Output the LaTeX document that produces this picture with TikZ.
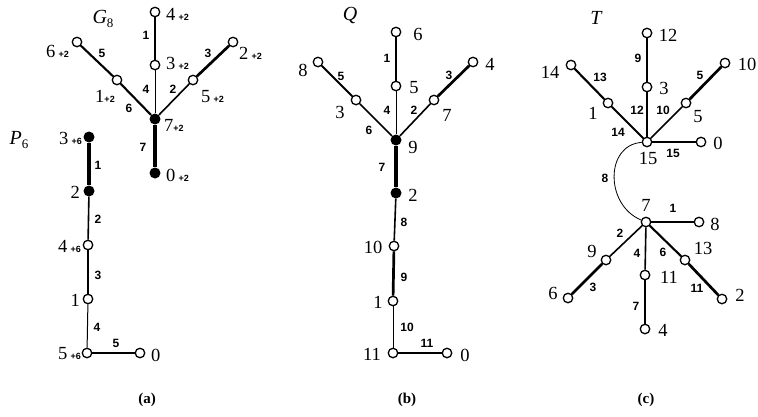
\documentclass[tikz,border=0pt]{standalone}
\usepackage{fontspec}
\newfontfamily\numserif{Liberation Serif}
\newfontfamily\numsans{Liberation Sans}
\newcommand\nlfont{\numserif\fontsize{18.5}{18.5}\selectfont}
\newcommand\elfont{\numsans\bfseries\fontsize{12}{12}\selectfont}
\newcommand\pl[1]{{\numsans\bfseries\fontsize{9}{9}\selectfont #1}}
\newcommand\gsub[1]{\raisebox{-0.45ex}{\upshape\fontsize{13}{13}\selectfont #1}}
\tikzset{
  vo/.style={circle,draw,line width=1.3pt,fill=white,minimum size=9.5pt,inner sep=0pt},
  vf/.style={circle,fill=black,minimum size=11pt,inner sep=0pt},
  nl/.style={font=\nlfont,inner sep=0pt},
  el/.style={font=\elfont,inner sep=0pt},
  gname/.style={font=\numserif\itshape\fontsize{20}{20}\selectfont,inner sep=0pt},
  captext/.style={font=\numserif\bfseries\fontsize{15}{15}\selectfont,inner sep=0pt},
  wa/.style={line width=1pt},
  wb/.style={line width=1.6pt},
  wc/.style={line width=2.1pt},
  wd/.style={line width=2.7pt},
  we/.style={line width=3.6pt},
}
\begin{document}
\begin{tikzpicture}[x=1pt,y=-1pt]
\useasboundingbox (0,0) rectangle (758,416);

% ---------- (a): G_8 ----------
\node[gname] (g8) at (103,19) {G\gsub{8}};
\node[vo] (a4) at (155,12) {};
\node[vo] (a3) at (155,65) {};
\node[vf] (a7) at (155,119) {};
\node[vf] (a0) at (155,173) {};
\node[vo] (a6) at (77,42) {};
\node[vo] (a1) at (117,80) {};
\node[vo] (a2) at (233,42) {};
\node[vo] (a5) at (193,80) {};
\draw[wd] (a4) -- (a3);
\draw[wa] (a3) -- (a7);
\draw[wc] (a6) -- (a1);
\draw[wc] (a1) -- (a7);
\draw[wd] (a2) -- (a5);
\draw[wb] (a5) -- (a7);
\draw[we] (a7) -- (a0);
\node[nl,anchor=west] (la4) at (166,14) {4\,\pl{+2}};
\node[nl,anchor=west] (la3) at (166,63) {3\,\pl{+2}};
\node[nl,anchor=east] (la6) at (69,51) {6\,\pl{+2}};
\node[nl] (la1) at (105,96) {1\pl{+2}};
\node[nl,anchor=west] (la2) at (239,53) {2\,\pl{+2}};
\node[nl,anchor=west] (la5) at (201,97) {5\,\pl{+2}};
\node[nl,anchor=west] (la7) at (164,125) {7\pl{+2}};
\node[nl,anchor=west] (la0) at (166,175) {0\,\pl{+2}};
\node[el] (ea1) at (146,35) {1};
\node[el] (ea4) at (146,89) {4};
\node[el] (ea2) at (173,89) {2};
\node[el] (ea3) at (208,53) {3};
\node[el] (ea5) at (102,53) {5};
\node[el] (ea6) at (129,108) {6};
\node[el] (ea7) at (143,147) {7};

% ---------- (a): P_6 ----------
\node[gname] (p6) at (19,140) {P\gsub{6}};
\node[vf] (p3) at (89,137) {};
\node[vf] (p2) at (89,191) {};
\node[vo] (p4) at (88,245) {};
\node[vo] (p1) at (88,299) {};
\node[vo] (p5) at (87,353) {};
\node[vo] (p0) at (140,353) {};
\draw[we] (p3) -- (p2);
\draw[wb] (p2) -- (p4);
\draw[wd] (p4) -- (p1);
\draw[wa] (p1) -- (p5);
\draw[wc] (p5) -- (p0);
\node[nl,anchor=east] (lp3) at (82,138) {3\,\pl{+6}};
\node[nl,anchor=east] (lp2) at (80,192) {2};
\node[nl,anchor=east] (lp4) at (81,246) {4\,\pl{+6}};
\node[nl,anchor=east] (lp1) at (80,300) {1};
\node[nl,anchor=east] (lp5) at (81,354) {5\,\pl{+6}};
\node[nl,anchor=west] (lp0) at (151,355) {0};
\node[el] (ep1) at (98,165) {1};
\node[el] (ep2) at (98,219) {2};
\node[el] (ep3) at (98,275) {3};
\node[el] (ep4) at (97,327) {4};
\node[el] (ep5) at (116,343) {5};

% ---------- (b): Q ----------
\node[gname] (qq) at (350,15) {Q};
\node[vo] (q6) at (396,32) {};
\node[vo] (q5) at (396,86) {};
\node[vf] (q9) at (396,140) {};
\node[vf] (q2) at (396,193) {};
\node[vo] (q8) at (318,62) {};
\node[vo] (q3) at (356,100) {};
\node[vo] (q4) at (473,62) {};
\node[vo] (q7) at (434,100) {};
\node[vo] (q10) at (394,246) {};
\node[vo] (q1) at (393,301) {};
\node[vo] (q11) at (393,353) {};
\node[vo] (q0) at (447,353) {};
\draw[wc] (q6) -- (q5);
\draw[wa] (q5) -- (q9);
\draw[wc] (q8) -- (q3);
\draw[wb] (q3) -- (q9);
\draw[wd] (q4) -- (q7);
\draw[wb] (q7) -- (q9);
\draw[we] (q9) -- (q2);
\draw[wb] (q2) -- (q10);
\draw[wd] (q10) -- (q1);
\draw[wa] (q1) -- (q11);
\draw[wc] (q11) -- (q0);
\node[nl] (lq6) at (418,34) {6};
\node[nl] (lq5) at (414,88) {5};
\node[nl] (lq8) at (303,70) {8};
\node[nl] (lq3) at (340,112) {3};
\node[nl] (lq4) at (490,64) {4};
\node[nl] (lq7) at (447,115) {7};
\node[nl] (lq9) at (413,147) {9};
\node[nl] (lq2) at (413,195) {2};
\node[nl] (lq10) at (373,247) {10};
\node[nl] (lq1) at (378,302) {1};
\node[nl] (lq11) at (372,354) {11};
\node[nl] (lq0) at (465,355) {0};
\node[el] (eq1) at (387,58) {1};
\node[el] (eq4) at (387,110) {4};
\node[el] (eq2) at (414,110) {2};
\node[el] (eq5) at (341,76) {5};
\node[el] (eq3) at (449,75) {3};
\node[el] (eq6) at (369,130) {6};
\node[el] (eq7) at (382,167) {7};
\node[el] (eq8) at (404,222) {8};
\node[el] (eq9) at (404,277) {9};
\node[el] (eq10) at (407,327) {10};
\node[el] (eq11) at (427,343) {11};

% ---------- (c): T ----------
\node[gname] (tt) at (596,18) {T};
\node[vo] (t15) at (647,142) {};
\node[vo] (t12) at (647,33) {};
\node[vo] (t3) at (647,87) {};
\node[vo] (t14) at (571,65) {};
\node[vo] (t1) at (608,103) {};
\node[vo] (t10) at (725,63) {};
\node[vo] (t5) at (686,103) {};
\node[vo] (t0) at (701,142) {};
\node[vo] (t7) at (646,222) {};
\node[vo] (t8) at (699,222) {};
\node[vo] (t9) at (606,260) {};
\node[vo] (t6) at (568,298) {};
\node[vo] (t11) at (645,275) {};
\node[vo] (t4) at (645,329) {};
\node[vo] (t13) at (685,260) {};
\node[vo] (t2) at (722,299) {};
\draw[wd] (t12) -- (t3);
\draw[wb] (t3) -- (t15);
\draw[wc] (t14) -- (t1);
\draw[wc] (t1) -- (t15);
\draw[wd] (t10) -- (t5);
\draw[wb] (t5) -- (t15);
\draw[wd] (t15) -- (t0);
\draw[line width=0.8pt] (t15) .. controls (605,145) and (605,205) .. (t7);
\draw[wc] (t7) -- (t8);
\draw[wb] (t7) -- (t9);
\draw[wd] (t9) -- (t6);
\draw[wb] (t7) -- (t11);
\draw[wd] (t11) -- (t4);
\draw[wc] (t7) -- (t13);
\draw[wd] (t13) -- (t2);
\node[nl] (lt12) at (668,35) {12};
\node[nl] (lt14) at (550,72) {14};
\node[nl] (lt3) at (664,88) {3};
\node[nl] (lt10) at (747,64) {10};
\node[nl] (lt1) at (593,113) {1};
\node[nl] (lt5) at (698,117) {5};
\node[nl] (lt0) at (718,143) {0};
\node[nl] (lt15) at (648,158) {15};
\node[nl] (lt7) at (646,205) {7};
\node[nl] (lt8) at (715,224) {8};
\node[nl] (lt9) at (592,251) {9};
\node[nl] (lt13) at (703,248) {13};
\node[nl] (lt11) at (669,277) {11};
\node[nl] (lt6) at (553,293) {6};
\node[nl] (lt2) at (740,295) {2};
\node[nl] (lt4) at (663,330) {4};
\node[el] (et9) at (638,58) {9};
\node[el] (et13) at (600,77) {13};
\node[el] (et5) at (700,75) {5};
\node[el] (et12) at (637,110) {12};
\node[el] (et10) at (663,110) {10};
\node[el] (et14) at (618,132) {14};
\node[el] (et15) at (673,153) {15};
\node[el] (et8) at (605,178) {8};
\node[el] (et1) at (673,208) {1};
\node[el] (et2) at (620,233) {2};
\node[el] (et4) at (637,253) {4};
\node[el] (et6) at (663,252) {6};
\node[el] (et3) at (593,287) {3};
\node[el] (et11) at (697,288) {11};
\node[el] (et7) at (636,306) {7};

% ---------- captions ----------
\node[captext] (ca) at (147,400) {(a)};
\node[captext] (cb) at (407,400) {(b)};
\node[captext] (cc) at (646,400) {(c)};
\end{tikzpicture}
\end{document}
